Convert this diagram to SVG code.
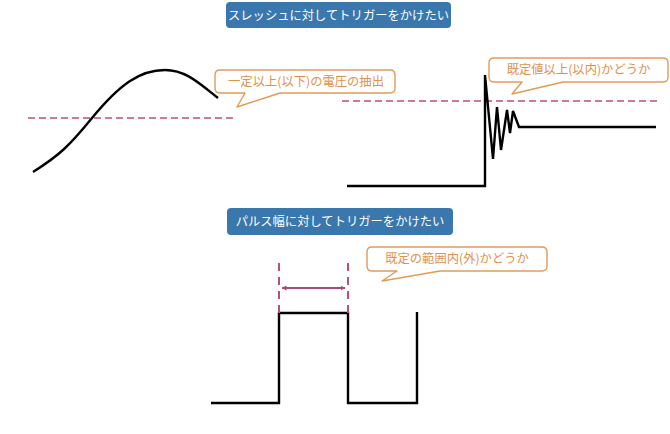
<svg xmlns="http://www.w3.org/2000/svg" width="670" height="434" viewBox="0 0 670 434">
<defs>
<style>
.title-box{fill:#3A77AC;}
.title{font-family:"Noto Sans CJK JP","Noto Sans",sans-serif;font-size:12.3px;fill:#FFFFFF;text-anchor:middle;}
.callout{fill:#FFFFFF;stroke:#E39A55;stroke-width:1.4;stroke-linejoin:round;}
.ctext{font-family:"Noto Sans CJK JP","Noto Sans",sans-serif;font-size:12.3px;fill:#E0914A;text-anchor:middle;}
.wave{fill:none;stroke:#000000;stroke-width:2.4;stroke-linejoin:miter;}
.thr{fill:none;stroke:#BE4C7E;stroke-width:1.6;stroke-dasharray:7,4;}
.vdash{fill:none;stroke:#B5507F;stroke-width:2;stroke-dasharray:8,6;}
.dim{fill:none;stroke:#A84D77;stroke-width:2;}
</style>
<marker id="ah" viewBox="0 0 10 10" refX="9" refY="5" markerWidth="5" markerHeight="5" orient="auto-start-reverse" markerUnits="userSpaceOnUse">
<path d="M0,0 L10,5 L0,10 z" fill="#A84D77"/>
</marker>
</defs>

<g id="title1">
<rect class="title-box" x="226" y="2" width="225" height="26" rx="4"/>
<text class="title" x="338.5" y="19.5">スレッシュに対してトリガーをかけたい</text>
</g>

<g id="title2">
<rect class="title-box" x="227" y="208" width="226" height="27" rx="4"/>
<text class="title" x="340" y="226">パルス幅に対してトリガーをかけたい</text>
</g>

<g id="wave1">
<line class="thr" x1="28" y1="118" x2="233" y2="118"/>
<path class="wave" d="M33,172 C60,155 70,145 92,118 C120,84 140,70 165,70 C186,70 200,84 218,98"/>
</g>

<g id="callout1">
<path class="callout" d="M220,70 H390 Q395,70 395,75 V88 Q395,93 390,93 H280 L237,107 L245,93 H220 Q215,93 215,88 V75 Q215,70 220,70 Z"/>
<text class="ctext" x="306" y="86">一定以上(以下)の電圧の抽出</text>
</g>

<g id="wave2">
<line class="thr" x1="342" y1="101" x2="657" y2="101"/>
<path class="wave" d="M347,186 H485 V75 L493,159 L497,107 L501,150 L507,110 L510,133 L513,111 L519,127 H656"/>
</g>

<g id="callout2">
<path class="callout" d="M494,58 H663 Q668,58 668,63 V77 Q668,82 663,82 H563 L512,94 L522,82 H494 Q489,82 489,77 V63 Q489,58 494,58 Z"/>
<text class="ctext" x="578.5" y="74">既定値以上(以内)かどうか</text>
</g>

<g id="wave3">
<path class="wave" d="M211,403 H279 V313 H348 V403 H417 V312"/>
</g>

<g id="connectors">
<line class="vdash" x1="279" y1="263" x2="279" y2="313"/>
<line class="vdash" x1="348" y1="263" x2="348" y2="313"/>
<line class="dim" x1="282" y1="288" x2="345" y2="288" marker-start="url(#ah)" marker-end="url(#ah)"/>
</g>

<g id="callout3">
<path class="callout" d="M372,247 H542 Q547,247 547,252 V266 Q547,271 542,271 H440 L382,281 L397,271 H372 Q367,271 367,266 V252 Q367,247 372,247 Z"/>
<text class="ctext" x="457" y="263">既定の範囲内(外)かどうか</text>
</g>
</svg>
